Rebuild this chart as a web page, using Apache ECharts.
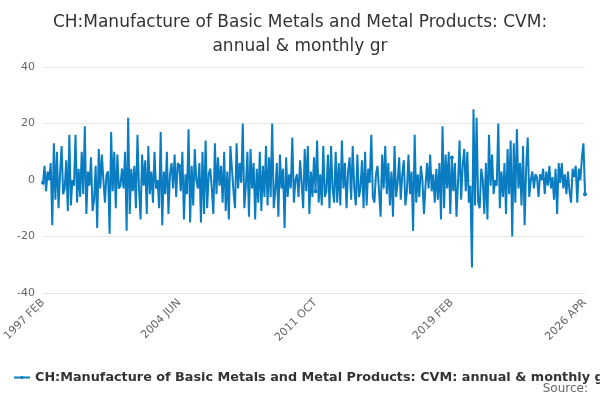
<!DOCTYPE html>
<html>
<head>
<meta charset="utf-8">
<script src="https://cdn.jsdelivr.net/npm/echarts@6/dist/echarts.min.js"></script>
<style>html,body{margin:0;padding:0;background:#fff}#chart{width:600px;height:400px}</style>
</head>
<body>
<div id="chart"></div>
<script>
// monthly growth values, 1997 FEB .. 2026 APR
const values = [
  -1,5,-4,3,0,6,-16,13,-7,10,-10,2,12,-5,-3,7,-11,16,-9,0,-2,16,-8,4,-6,10,-5,19,-12,3,-2,8,-11,-7,5,-17,11,-3,9,0,-8,2,3,-19,
  17,-4,10,-10,9,-3,-2,4,-3,10,-18,22,-12,4,-4,5,-10,16,-3,-14,9,-2,7,-12,12,-5,3,-8,10,-3,0,-10,17,-16,3,-5,10,-12,2,6,-3,9,-6,6,
  5,-4,10,-14,2,-5,18,-15,5,-9,11,0,-3,6,-15,10,-12,14,-10,2,4,-3,-12,13,-5,8,-2,5,-8,10,-11,3,-14,12,4,-4,-10,13,-3,6,-1,20,-10,-2,
  10,-13,11,-3,6,-14,4,-8,10,-11,5,-6,12,-9,8,-6,20,-10,-4,6,-13,9,-3,4,-17,8,-6,2,-3,15,-8,0,2,-6,7,-1,-10,11,-4,12,-12,3,-6,8,
  -4,14,-8,2,-9,12,-6,-4,9,-10,12,-3,-8,10,-8,6,-9,14,-3,6,-10,3,8,-7,12,-3,-9,9,-6,-3,7,-10,10,-9,4,-1,16,-6,-8,2,5,-4,-13,9,
  -3,12,-5,6,-9,3,-13,12,-6,-1,8,-7,2,7,-9,-4,9,-5,3,-18,16,-8,2,-6,5,0,-12,-2,6,-3,9,-4,2,-8,4,-7,6,-14,19,-10,9,-3,10,-12,
  8,-4,6,-13,-1,14,-7,5,11,-4,10,-8,-2,-31,25,-9,22,-8,-10,4,0,-12,6,-14,16,-2,9,-5,0,-2,20,-10,3,-6,6,-12,11,-5,14,-20,13,-8,18,-3,
  6,-9,12,-16,4,15,-6,0,3,-3,2,1,-6,2,0,4,-5,3,-2,5,-3,1,-7,4,-12,6,-1,6,-3,2,-5,3,-4,-8,4,1,5,-8,4,0,8,13,-5
];
const monthNames = ["JAN","FEB","MAR","APR","MAY","JUN","JUL","AUG","SEP","OCT","NOV","DEC"];
const startYear = 1997, startMonth = 1;
const categories = values.map((_, i) => {
  const m = startMonth + i;
  return (startYear + Math.floor(m / 12)) + " " + monthNames[m % 12];
});
const seriesName = "CH:Manufacture of Basic Metals and Metal Products: CVM: annual & monthly gr";

const chart = echarts.init(document.getElementById("chart"));
chart.setOption({
  animation: false,
  title: {
    text: "CH:Manufacture of Basic Metals and Metal Products: CVM:\nannual & monthly gr",
    left: "center", top: 6,
    textStyle: { fontFamily: "DejaVu Sans", fontSize: 17, fontWeight: "normal", color: "#333", lineHeight: 24 }
  },
  graphic: [{
    type: "text", right: 12, top: 383,
    style: { text: "Source:", fontFamily: "DejaVu Sans", fontSize: 12, fill: "#666" }
  }],
  legend: {
    left: 8, top: 366, itemWidth: 16, itemHeight: 4, itemGap: 4,
    textStyle: { fontFamily: "DejaVu Sans", fontSize: 12.8, fontWeight: "bold", color: "#333" }
  },
  grid: { left: 43, right: 15, top: 67, bottom: 107 },
  xAxis: {
    type: "category", data: categories, boundaryGap: false,
    axisLine: { lineStyle: { color: "#ccd6eb" } },
    axisTick: { interval: 21, length: 10, lineStyle: { color: "#ccd6eb" } },
    axisLabel: { interval: 87, rotate: 45, showMaxLabel: true, fontFamily: "DejaVu Sans", fontSize: 11, color: "#666" }
  },
  yAxis: {
    type: "value", min: -40, max: 40, interval: 20,
    axisLabel: { fontFamily: "DejaVu Sans", fontSize: 11, color: "#666" },
    splitLine: { lineStyle: { color: "#e6e6e6" } }
  },
  series: [{
    name: seriesName, type: "line", data: values,
    symbol: "circle", symbolSize: 4, showSymbol: true,
    itemStyle: { color: "#0a7dc2" },
    lineStyle: { color: "#0a7dc2", width: 2 }
  }]
});
</script>
</body>
</html>
